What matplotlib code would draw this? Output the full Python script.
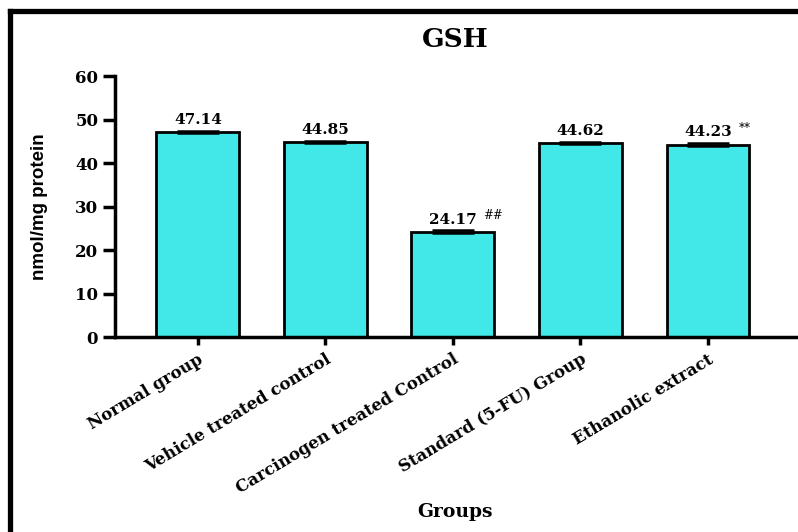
import matplotlib.pyplot as plt
import numpy as np
from matplotlib.lines import Line2D

groups = ['Normal group', 'Vehicle treated control', 'Carcinogen treated Control',
          'Standard (5-FU) Group', 'Ethanolic extract']
gsh = [47.14, 44.85, 24.17, 44.62, 44.23]
sem = [0.25, 0.25, 0.35, 0.3, 0.3]
marks = ['', '', '##', '', '**']

serif = 'DejaVu Serif'

fig = plt.figure(figsize=(7.98, 5.32), dpi=100)
ax = fig.add_axes([0.144, 0.3665, 0.8535, 0.4905])

x = np.arange(len(groups))
bars = ax.bar(x, gsh, 0.65, color='#42E8E8', edgecolor='black', linewidth=2, zorder=2)
ax.errorbar(x, gsh, yerr=sem, fmt='none', ecolor='black', elinewidth=1.2,
            capsize=15, capthick=1.8, zorder=3)

for xi, v, m in zip(x, gsh, marks):
    ax.text(xi, v + 1.2, f'{v:.2f}', ha='center', va='bottom',
            fontsize=11, fontweight='bold', family=serif)
    if m:
        ax.text(xi + 0.24, v + 2.3, m, ha='left', va='bottom',
                fontsize=8.5, family=serif)

ax.set_xlim(-0.65, 4.69)
ax.set_ylim(0, 60)
ax.set_yticks(range(0, 61, 10))
ax.set_xticks(x)
ax.set_xticklabels(groups, rotation=31, ha='right', rotation_mode='anchor',
                   fontsize=12, fontweight='bold', family=serif)
for lab in ax.get_yticklabels():
    lab.set_fontsize(12)
    lab.set_fontweight('bold')
    lab.set_family(serif)

ax.spines['top'].set_visible(False)
ax.spines['right'].set_visible(False)
ax.spines['left'].set_linewidth(2.5)
ax.spines['bottom'].set_linewidth(2.5)
ax.tick_params(axis='y', length=9, width=2.5, pad=3)
ax.tick_params(axis='x', length=6, width=2.5, pad=4)

ax.set_ylabel('nmol/mg protein', fontsize=13.5, fontweight='bold',
              family=['Liberation Sans Narrow', 'Liberation Sans'])
ax.yaxis.set_label_coords(-0.098, 0.5)
fig.text(0.57, 0.038, 'Groups', ha='center', va='center', fontsize=13.5,
         fontweight='bold', family=serif)
fig.text(0.57, 0.925, 'GSH', ha='center', va='center', fontsize=19,
         fontweight='bold', family=serif)

# outer frame (top and left only)
fig.add_artist(Line2D([0.013, 1.0], [0.979, 0.979], color='black', linewidth=3.8,
                      transform=fig.transFigure))
fig.add_artist(Line2D([0.013, 0.013], [0.0, 0.979], color='black', linewidth=3.8,
                      transform=fig.transFigure))

fig.savefig('out.png', dpi=100)
